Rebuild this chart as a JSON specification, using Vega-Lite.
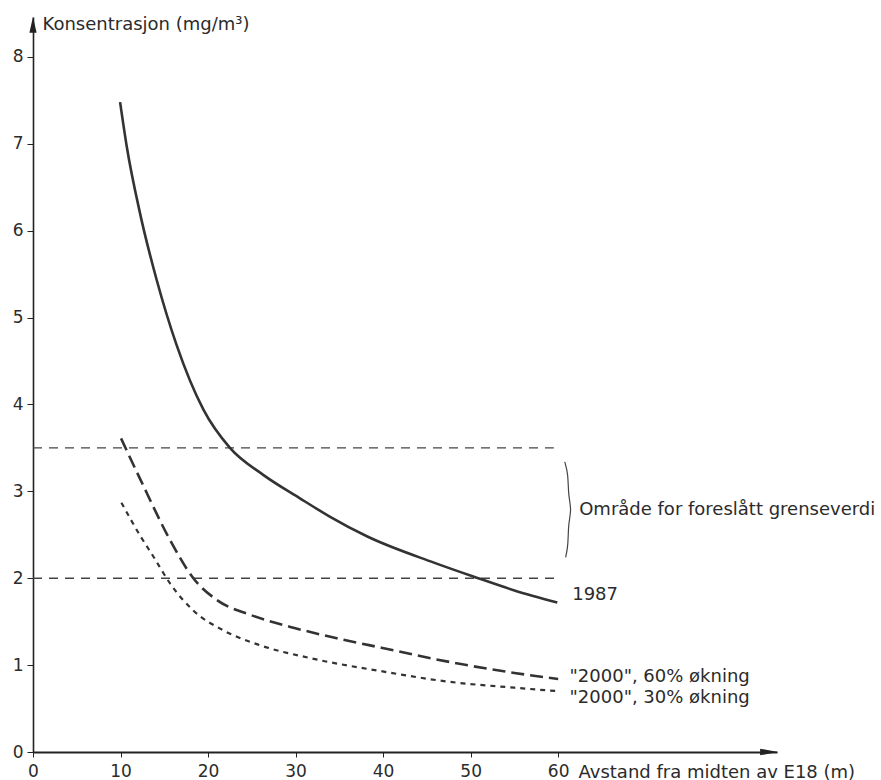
{
  "$schema": "https://vega.github.io/schema/vega-lite/v6.json",
  "width": 744,
  "height": 735,
  "autosize": "none",
  "padding": {"left": 33, "top": 17, "right": 104, "bottom": 28},
  "background": "white",
  "config": {
    "view": {"stroke": null},
    "font": "DejaVu Sans",
    "text": {"font": "DejaVu Sans", "color": "#2b2b2b"}
  },
  "datasets": {
    "curves": [
      {"s": "1987", "x": 9.95, "y": 7.48},
      {"s": "1987", "x": 10.71, "y": 6.97},
      {"s": "1987", "x": 12.23, "y": 6.2},
      {"s": "1987", "x": 14.14, "y": 5.43},
      {"s": "1987", "x": 16.42, "y": 4.68},
      {"s": "1987", "x": 19.47, "y": 3.94},
      {"s": "1987", "x": 22.5, "y": 3.5},
      {"s": "1987", "x": 26.3, "y": 3.19},
      {"s": "1987", "x": 30.5, "y": 2.92},
      {"s": "1987", "x": 33.9, "y": 2.71},
      {"s": "1987", "x": 38.2, "y": 2.48},
      {"s": "1987", "x": 45.8, "y": 2.18},
      {"s": "1987", "x": 50.3, "y": 2.02},
      {"s": "1987", "x": 55.0, "y": 1.86},
      {"s": "1987", "x": 59.9, "y": 1.72},
      {"s": "60", "x": 10.06, "y": 3.61},
      {"s": "60", "x": 12.3, "y": 3.13},
      {"s": "60", "x": 15.66, "y": 2.44},
      {"s": "60", "x": 18.32, "y": 2.0},
      {"s": "60", "x": 21.0, "y": 1.75},
      {"s": "60", "x": 24.8, "y": 1.58},
      {"s": "60", "x": 29.4, "y": 1.44},
      {"s": "60", "x": 34.7, "y": 1.31},
      {"s": "60", "x": 39.8, "y": 1.2},
      {"s": "60", "x": 47.4, "y": 1.04},
      {"s": "60", "x": 55.0, "y": 0.91},
      {"s": "60", "x": 60.0, "y": 0.84},
      {"s": "30", "x": 10.1, "y": 2.87},
      {"s": "30", "x": 12.3, "y": 2.48},
      {"s": "30", "x": 13.75, "y": 2.25},
      {"s": "30", "x": 15.66, "y": 1.94},
      {"s": "30", "x": 18.3, "y": 1.63},
      {"s": "30", "x": 21.75, "y": 1.4},
      {"s": "30", "x": 25.9, "y": 1.23},
      {"s": "30", "x": 31.7, "y": 1.08},
      {"s": "30", "x": 39.8, "y": 0.93},
      {"s": "30", "x": 47.4, "y": 0.81},
      {"s": "30", "x": 55.0, "y": 0.74},
      {"s": "30", "x": 60.0, "y": 0.7}
    ],
    "refs": [
      {"x": 0, "x2": 59.5, "y": 3.5},
      {"x": 0, "x2": 60.3, "y": 2.0}
    ],
    "brace": [
      {"i": 1, "x": 60.75, "y": 3.34},
      {"i": 2, "x": 61.15, "y": 3.2},
      {"i": 3, "x": 61.15, "y": 2.95},
      {"i": 4, "x": 61.55, "y": 2.79},
      {"i": 5, "x": 61.15, "y": 2.63},
      {"i": 6, "x": 61.15, "y": 2.38},
      {"i": 7, "x": 60.85, "y": 2.24}
    ],
    "labels": [
      {"x": 62.4, "y": 2.78, "text": "Område for foreslått grenseverdi"},
      {"x": 61.6, "y": 1.81, "text": "1987"},
      {"x": 61.3, "y": 0.86, "text": "\"2000\", 60% økning"},
      {"x": 61.3, "y": 0.62, "text": "\"2000\", 30% økning"}
    ],
    "arrowx": [{"x": 84.1, "y": 0}],
    "arrowy": [{"x": 0, "y": 8.37}]
  },
  "encoding": {
    "x": {
      "field": "x",
      "type": "quantitative",
      "scale": {"domain": [0, 85], "nice": false, "zero": false},
      "axis": {
        "values": [0, 10, 20, 30, 40, 50, 60],
        "grid": false,
        "title": "Avstand fra midten av E18 (m)",
        "titleX": 545,
        "titleY": 25,
        "titleAlign": "left",
        "titleBaseline": "alphabetic",
        "titleFontWeight": "normal",
        "titleFont": "DejaVu Sans",
        "titleFontSize": 18,
        "titleColor": "#2b2b2b",
        "labelFont": "DejaVu Sans",
        "labelFontSize": 17,
        "labelColor": "#2b2b2b",
        "labelFlush": false,
        "labelOverlap": false,
        "labelPadding": 6,
        "tickSize": 5,
        "tickColor": "#222",
        "domainColor": "#222",
        "domainWidth": 2
      }
    },
    "y": {
      "field": "y",
      "type": "quantitative",
      "scale": {"domain": [0, 8.46], "nice": false, "zero": false},
      "axis": {
        "values": [0, 1, 2, 3, 4, 5, 6, 7, 8],
        "grid": false,
        "title": "Konsentrasjon (mg/m³)",
        "titleAngle": 0,
        "titleX": 9,
        "titleY": 12,
        "titleAlign": "left",
        "titleBaseline": "alphabetic",
        "titleFontWeight": "normal",
        "titleFont": "DejaVu Sans",
        "titleFontSize": 18,
        "titleColor": "#2b2b2b",
        "labelFont": "DejaVu Sans",
        "labelFontSize": 17,
        "labelColor": "#2b2b2b",
        "labelPadding": 4,
        "labelFlush": false,
        "labelOverlap": false,
        "tickSize": 6,
        "tickColor": "#222",
        "domainColor": "#222",
        "domainWidth": 1.6
      }
    }
  },
  "layer": [
    {
      "data": {"name": "refs"},
      "mark": {"type": "rule", "color": "#444", "strokeWidth": 1.3, "strokeDash": [9, 7]},
      "encoding": {"x2": {"field": "x2"}}
    },
    {
      "data": {"name": "curves"},
      "transform": [{"filter": "datum.s == '1987'"}],
      "mark": {"type": "line", "interpolate": "monotone", "color": "#333", "strokeWidth": 2.6}
    },
    {
      "data": {"name": "curves"},
      "transform": [{"filter": "datum.s == '60'"}],
      "mark": {"type": "line", "interpolate": "monotone", "color": "#333", "strokeWidth": 2.6, "strokeDash": [13, 6]}
    },
    {
      "data": {"name": "curves"},
      "transform": [{"filter": "datum.s == '30'"}],
      "mark": {"type": "line", "interpolate": "monotone", "color": "#333", "strokeWidth": 2.2, "strokeDash": [5, 5]}
    },
    {
      "data": {"name": "brace"},
      "mark": {"type": "line", "interpolate": "basis", "color": "#444", "strokeWidth": 1.2},
      "encoding": {"order": {"field": "i", "type": "quantitative"}}
    },
    {
      "data": {"name": "labels"},
      "mark": {"type": "text", "align": "left", "baseline": "middle", "fontSize": 18, "font": "DejaVu Sans", "color": "#2b2b2b"},
      "encoding": {"text": {"field": "text"}}
    },
    {
      "data": {"name": "arrowx"},
      "mark": {"type": "point", "shape": "M-1,-0.36L1,0L-1,0.36Z", "filled": true, "color": "#222", "size": 324, "opacity": 1}
    },
    {
      "data": {"name": "arrowy"},
      "mark": {"type": "point", "shape": "M0,-1L0.45,1L-0.45,1Z", "filled": true, "color": "#222", "size": 256, "opacity": 1}
    }
  ]
}
